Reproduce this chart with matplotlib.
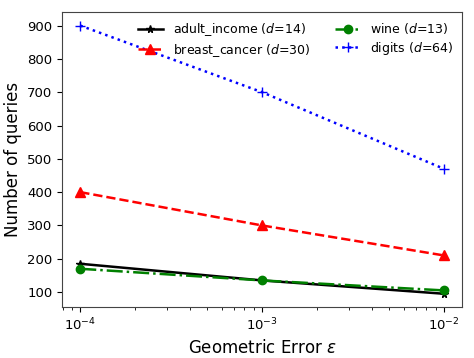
import numpy as np
import matplotlib.pyplot as plt

eps = [1e-4, 1e-3, 1e-2]
adult_income = [185, 135, 95]
breast_cancer = [400, 300, 210]
wine = [170, 135, 105]
digits = [900, 700, 470]

fig, ax = plt.subplots(figsize=(4.74, 3.58), dpi=100)

ax.plot(eps, adult_income, 'k*-', lw=1.8, ms=5.5, label=r'adult_income ($d$=14)')
ax.plot(eps, breast_cancer, 'r^--', lw=1.8, ms=6.5, label=r'breast_cancer ($d$=30)')
ax.plot(eps, wine, 'go-.', lw=1.8, ms=6, label=r'wine ($d$=13)')
ax.plot(eps, digits, 'b+:', lw=1.8, ms=6.5, label=r'digits ($d$=64)')

ax.set_xscale('log')
ax.set_xlabel(r'Geometric Error $\epsilon$', fontsize=12)
ax.set_ylabel('Number of queries', fontsize=12)
ax.tick_params(labelsize=9.5)
for s in ax.spines.values():
    s.set_color('#444444')
ax.legend(ncol=2, fontsize=9, loc='upper right', frameon=False,
          handlelength=2.0, columnspacing=2.0, labelspacing=0.3,
          borderaxespad=0.3)

fig.subplots_adjust(left=0.131, right=0.975, top=0.966, bottom=0.142)
plt.savefig('out.png', dpi=100)
